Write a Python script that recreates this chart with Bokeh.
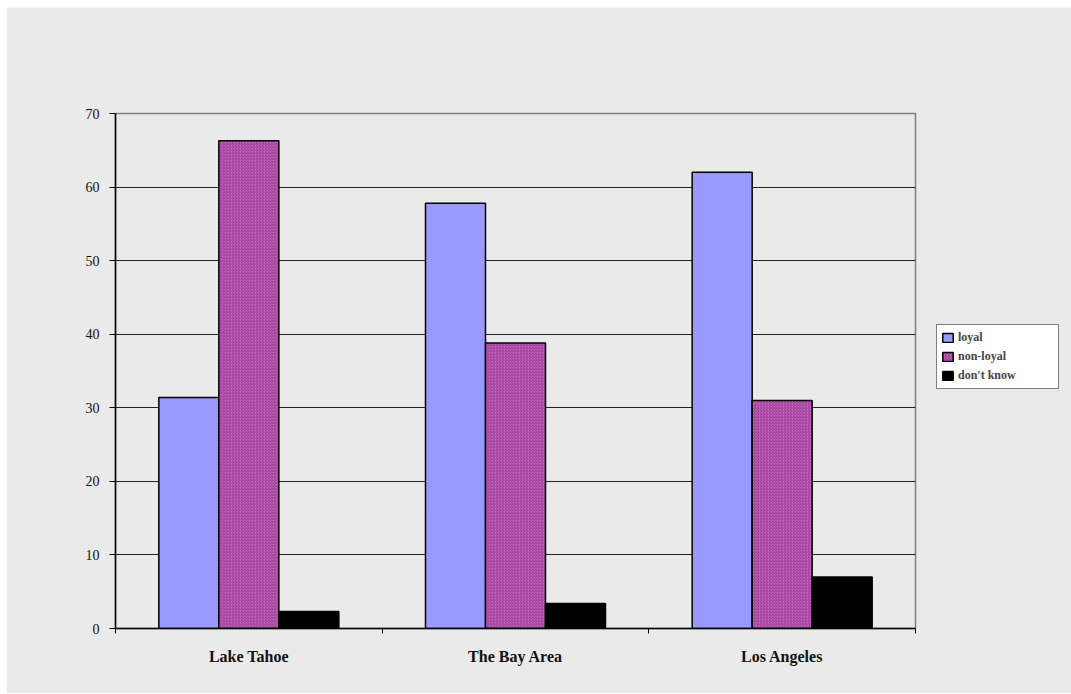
from bokeh.plotting import figure
from bokeh.models import (ColumnDataSource, Range1d, FixedTicker, Legend, LegendItem,
                          Spacer)
from bokeh.layouts import column, row
from bokeh.embed import file_html
from bokeh.resources import INLINE

# Survey answers by region (percent)
regions = ["Lake Tahoe", "The Bay Area", "Los Angeles"]
loyal = [31.4, 57.8, 62.0]
non_loyal = [66.3, 38.8, 31.0]
dont_know = [2.3, 3.4, 7.0]
series_names = ["loyal", "non-loyal", "don't know"]
y_ticks = [0, 10, 20, 30, 40, 50, 60, 70]

BG = "#EAEAEA"
FONT = "Liberation Serif"

centers = [i + 0.5 for i in range(len(regions))]
bar_w = 0.225

p = figure(width=1064, height=686, output_backend="svg", toolbar_location=None,
           x_range=Range1d(0, len(regions)), y_range=Range1d(0, 70),
           min_border_left=109, min_border_right=155, min_border_top=106,
           min_border_bottom=65, frame_width=800, frame_height=515)
p.background_fill_color = BG
p.border_fill_color = BG
p.outline_line_color = "#808080"
p.outline_line_width = 1.5

src = ColumnDataSource(dict(
    x_l=[c - bar_w for c in centers], x_n=centers, x_d=[c + bar_w for c in centers],
    loyal=loyal, non_loyal=non_loyal, dont_know=dont_know))

r_l = p.vbar(x="x_l", top="loyal", width=bar_w, source=src,
             fill_color="#9999FF", line_color="black", line_width=1.5)
r_n = p.vbar(x="x_n", top="non_loyal", width=bar_w, source=src,
             fill_color="#CE62CA", hatch_pattern="right_diagonal_line",
             hatch_color="#93408C", hatch_scale=3, hatch_weight=1,
             line_color="black", line_width=1.5)
r_d = p.vbar(x="x_d", top="dont_know", width=bar_w, source=src,
             fill_color="black", line_color="black", line_width=1.5)

# y axis
p.yaxis.ticker = FixedTicker(ticks=y_ticks)
p.yaxis.axis_line_color = "black"
p.yaxis.axis_line_width = 1.5
p.yaxis.major_tick_in = 0
p.yaxis.major_tick_out = 6
p.yaxis.major_tick_line_color = "black"
p.yaxis.minor_tick_line_color = None
p.yaxis.major_label_text_font = FONT
p.yaxis.major_label_text_font_size = "14px"
p.yaxis.major_label_text_color = "#111111"
p.yaxis.major_label_standoff = 10

p.ygrid.ticker = FixedTicker(ticks=y_ticks)
p.ygrid.grid_line_color = "#222222"
p.ygrid.grid_line_width = 1
p.xgrid.grid_line_color = None

# x axis: region names at group centres, tick marks at group boundaries
p.xaxis.ticker = FixedTicker(ticks=centers,
                             minor_ticks=list(range(len(regions) + 1)))
p.xaxis.major_label_overrides = {c: name for c, name in zip(centers, regions)}
p.xaxis.major_tick_line_color = None
p.xaxis.minor_tick_line_color = "black"
p.xaxis.minor_tick_in = 0
p.xaxis.minor_tick_out = 5
p.xaxis.axis_line_color = "black"
p.xaxis.axis_line_width = 1.5
p.xaxis.major_label_text_font = FONT
p.xaxis.major_label_text_font_size = "16px"
p.xaxis.major_label_text_font_style = "bold"
p.xaxis.major_label_text_color = "#111111"
p.xaxis.major_label_standoff = 13

legend = Legend(items=[LegendItem(label=series_names[0], renderers=[r_l]),
                       LegendItem(label=series_names[1], renderers=[r_n]),
                       LegendItem(label=series_names[2], renderers=[r_d])],
                location=(21, 239))
legend.background_fill_color = "white"
legend.background_fill_alpha = 1
legend.border_line_color = "black"
legend.border_line_width = 1
legend.label_text_font = FONT
legend.label_text_font_size = "12px"
legend.label_text_font_style = "bold"
legend.glyph_width = 13
legend.glyph_height = 11
legend.label_standoff = 4
legend.label_width = 96
legend.label_height = 17
legend.spacing = 2
legend.padding = 4
legend.margin = 0
p.add_layout(legend, "right")

layout = column(Spacer(height=7), row(Spacer(width=6), p))

open("out.html", "w").write(file_html(layout, INLINE))
